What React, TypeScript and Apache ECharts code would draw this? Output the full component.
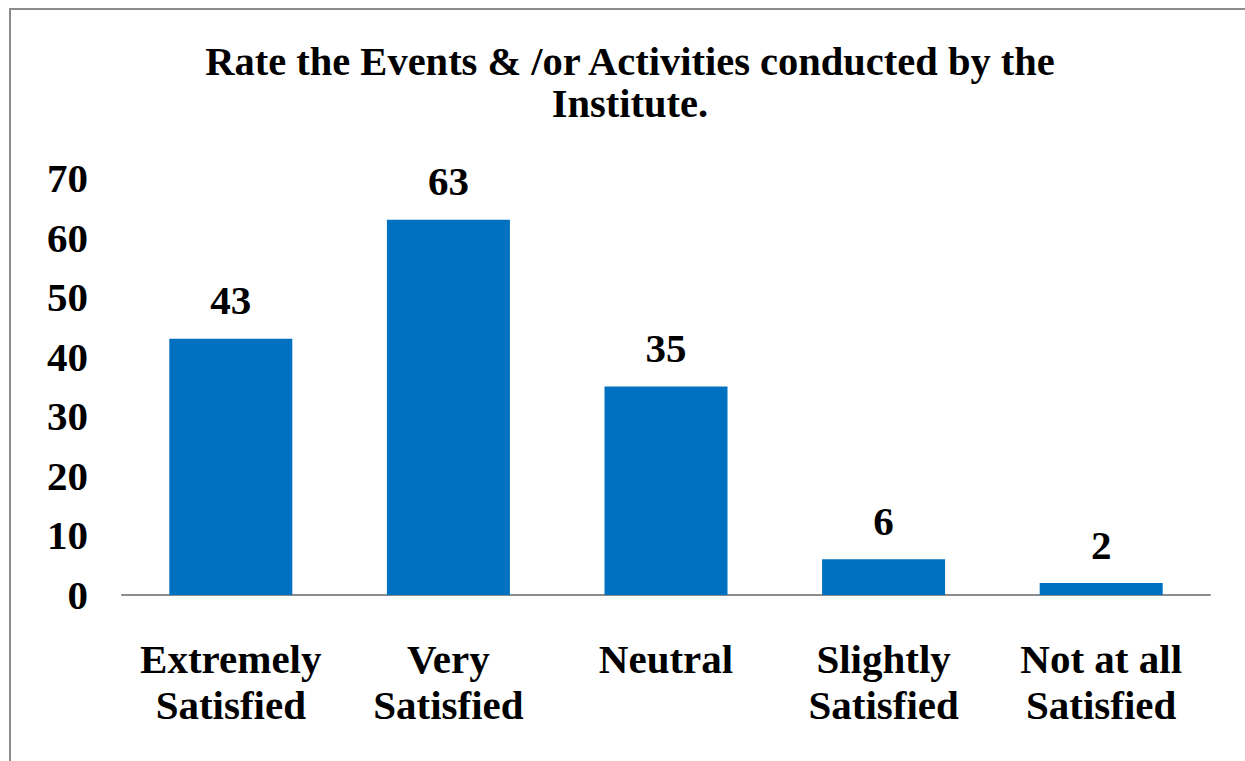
import React, { useEffect, useRef } from "react";
import * as echarts from "echarts";

const titleText = "Rate the Events & /or Activities conducted by the\nInstitute.";
const categories = [
  "Extremely\nSatisfied",
  "Very\nSatisfied",
  "Neutral",
  "Slightly\nSatisfied",
  "Not at all\nSatisfied",
];
const values = [43, 63, 35, 6, 2];
const yMin = 0;
const yMax = 70;
const yInterval = 10;

const FONT = "Liberation Serif";

export default function App() {
  const ref = useRef<HTMLDivElement>(null);
  useEffect(() => {
    if (!ref.current) return;
    const chart = echarts.init(ref.current, undefined, { renderer: "svg" });
    chart.setOption({
      animation: false,
      backgroundColor: "#ffffff",
      title: {
        text: titleText,
        left: 630,
        textAlign: "center",
        top: 40,
        padding: 0,
        textStyle: {
          fontFamily: FONT,
          fontWeight: "bold",
          fontSize: 40.5,
          lineHeight: 42,
          color: "#000",
        },
      },
      graphic: [
        {
          type: "rect",
          shape: { x: 10, y: 9, width: 1300, height: 900 },
          style: { fill: "none", stroke: "#8c8c8c", lineWidth: 2 },
          silent: true,
        },
      ],
      grid: { left: 122, right: 35, top: 178, bottom: 166, containLabel: false },
      xAxis: {
        type: "category",
        data: categories,
        axisLine: { show: true, lineStyle: { color: "#8c8c8c", width: 2 } },
        axisTick: { show: false },
        axisLabel: {
          fontFamily: FONT,
          fontWeight: "bold",
          fontSize: 41,
          lineHeight: 46,
          color: "#000",
          margin: 41,
          interval: 0,
        },
      },
      yAxis: {
        type: "value",
        min: yMin,
        max: yMax,
        interval: yInterval,
        axisLine: { show: false },
        axisTick: { show: false },
        splitLine: { show: false },
        axisLabel: {
          fontFamily: FONT,
          fontWeight: "bold",
          fontSize: 41,
          color: "#000",
          margin: 34,
        },
      },
      series: [
        {
          type: "bar",
          data: values,
          barWidth: 123,
          itemStyle: { color: "#0070C0" },
          label: {
            show: true,
            position: "top",
            distance: 18,
            fontFamily: FONT,
            fontWeight: "bold",
            fontSize: 41,
            color: "#000",
          },
        },
      ],
    });
    return () => chart.dispose();
  }, []);
  return (
    <div
      ref={ref}
      style={{ position: "fixed", left: 0, top: 0, width: 1245, height: 761 }}
    />
  );
}
